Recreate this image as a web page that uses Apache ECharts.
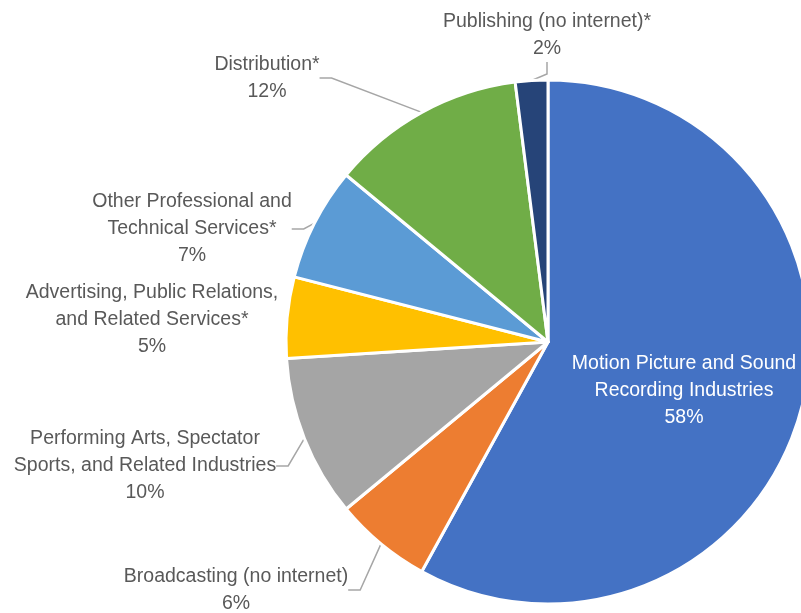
<!DOCTYPE html>
<html>
<head>
<meta charset="utf-8">
<script src="https://cdn.jsdelivr.net/npm/echarts@6/dist/echarts.min.js"></script>
<style>
  html, body { margin: 0; padding: 0; background: #fff; }
  #chart { width: 801px; height: 613px; }
</style>
</head>
<body>
<div id="chart"></div>
<script>
// Industry shares (percent), clockwise from 12 o'clock
const categories = [
  'Motion Picture and Sound\nRecording Industries',
  'Broadcasting (no internet)',
  'Performing Arts, Spectator\nSports, and Related Industries',
  'Advertising, Public Relations,\nand Related Services*',
  'Other Professional and\nTechnical Services*',
  'Distribution*',
  'Publishing (no internet)*'
];
const shares = [58, 6, 10, 5, 7, 12, 2];
const colors = ['#4472C4', '#ED7D31', '#A5A5A5', '#FFC000', '#5B9BD5', '#70AD47', '#264478'];

// Label anchor points (text block centre) around the pie
const labelPos = [
  [684, 391], [236, 590], [145, 466], [152, 320], [192, 229], [267, 78], [547, 35]
];
// Slices whose label sits close enough to need no leader line
const noLeader = [0, 3];

const FONT = "'Liberation Sans Narrow', 'Arial Narrow', 'Liberation Sans', sans-serif";

const chart = echarts.init(document.getElementById('chart'), null, { renderer: 'canvas' });

chart.setOption({
  animation: false,
  series: [{
    type: 'pie',
    center: [548, 342],
    radius: [0, 262],
    startAngle: 90,
    clockwise: true,
    avoidLabelOverlap: false,
    itemStyle: { borderColor: '#fff', borderWidth: 3 },
    label: {
      show: true,
      position: 'outside',
      fontFamily: FONT,
      fontSize: 19.5,
      lineHeight: 27,
      color: '#595959',
      align: 'center',
      formatter: p => p.name + '\n' + Math.round(p.percent) + '%'
    },
    labelLine: {
      show: true,
      length: 10,
      length2: 12,
      lineStyle: { color: '#A6A6A6', width: 1.5 }
    },
    labelLayout: params => {
      const pos = labelPos[params.dataIndex];
      return { x: pos[0], y: pos[1], align: 'center', verticalAlign: 'middle', moveOverlap: null };
    },
    data: categories.map((name, i) => {
      const item = { name, value: shares[i], itemStyle: { color: colors[i] } };
      if (i === 0) item.label = { color: '#fff' };
      if (noLeader.includes(i)) item.labelLine = { show: false };
      return item;
    })
  }]
});
</script>
</body>
</html>
